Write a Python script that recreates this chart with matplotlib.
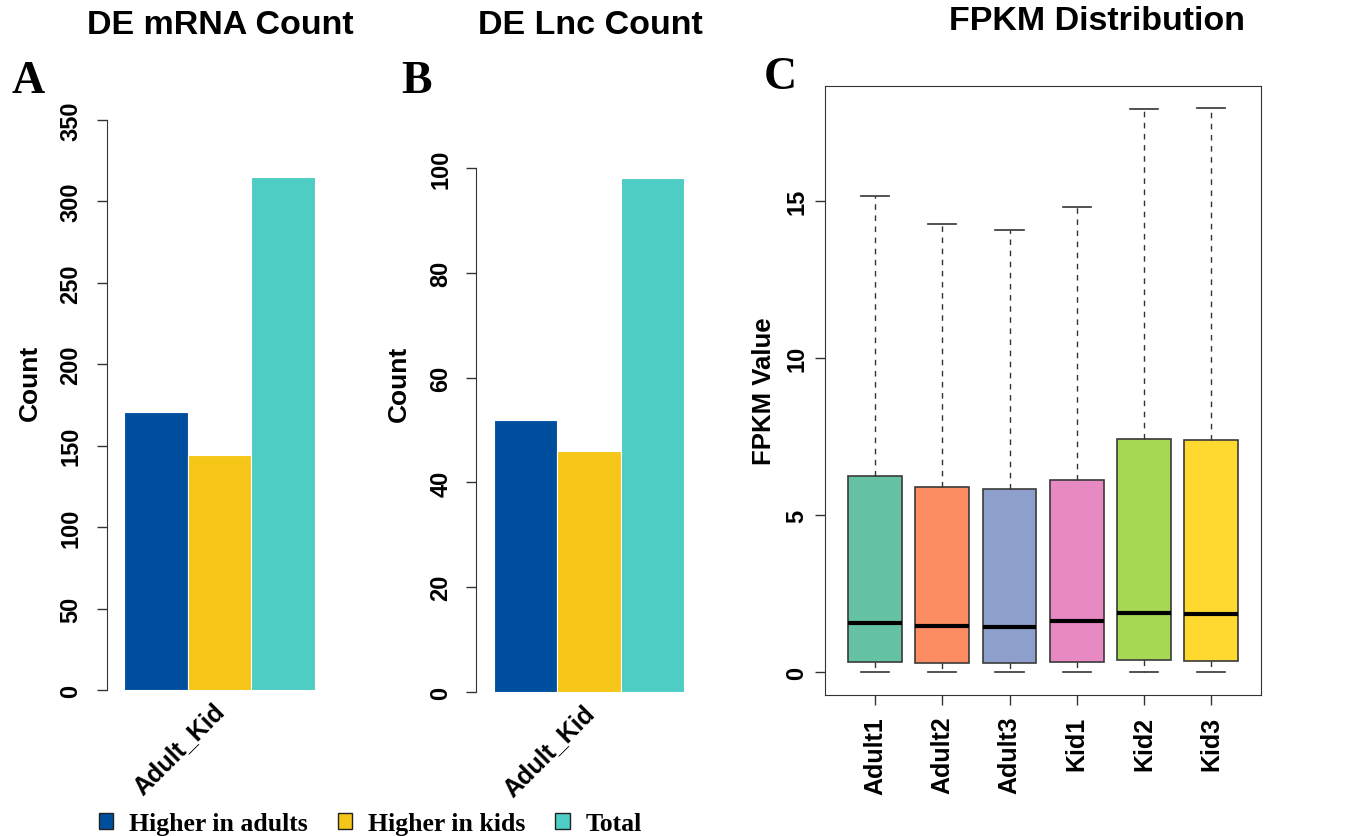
import matplotlib
matplotlib.use("Agg")
import matplotlib.pyplot as plt
from matplotlib.patches import Patch

# ---- data ----
groups = ["Higher in adults", "Higher in kids", "Total"]
bar_colors = ["#004F9F", "#F5C518", "#4ECDC4"]
comparison = "Adult_Kid"
mrna_counts = [171, 144, 315]
lnc_counts = [52, 46, 98]

samples = ["Adult1", "Adult2", "Adult3", "Kid1", "Kid2", "Kid3"]
box_colors = ["#66C2A5", "#FC8D62", "#8DA0CB", "#E78AC3", "#A6D854", "#FFD92F"]
whisk_lo = [0.0, 0.0, 0.0, 0.0, 0.0, 0.0]
q1 = [0.32, 0.29, 0.29, 0.32, 0.38, 0.35]
med = [1.56, 1.46, 1.43, 1.62, 1.88, 1.85]
q3 = [6.24, 5.89, 5.83, 6.11, 7.42, 7.39]
whisk_hi = [15.16, 14.27, 14.08, 14.81, 17.93, 17.96]

W, H = 1357, 837
SANS = "Liberation Sans"
SERIF = "Liberation Serif"

fig = plt.figure(figsize=(W / 100, H / 100), dpi=100)


def px_axes(x0, y0, x1, y1):
    # pixel box (top-left origin) -> figure axes
    return fig.add_axes([x0 / W, 1 - y1 / H, (x1 - x0) / W, (y1 - y0) / H])


def bar_panel(ax, counts, ymax, step, xlim, pad, label_y):
    ax.bar(range(len(counts)), counts, width=1.0, color=bar_colors,
           edgecolor="white", linewidth=0.8)
    ax.set_xlim(*xlim)
    ax.set_ylim(0, ymax)
    for s in ["top", "right", "bottom"]:
        ax.spines[s].set_visible(False)
    ax.spines["left"].set_color("#333333")
    ax.set_yticks(range(0, ymax + 1, step))
    ax.tick_params(axis="y", length=7, width=1, color="#333333", pad=pad,
                   labelsize=17)
    for t in ax.get_yticklabels():
        t.set_rotation(90)
        t.set_va("center")
        t.set_fontweight("bold")
        t.set_fontfamily(SANS)
    # label sits a little left of the group centre, like the R original
    ax.set_xticks([0.89])
    ax.set_xticklabels([comparison], rotation=45, ha="right", va="top",
                       rotation_mode="anchor", fontsize=18, fontweight="bold",
                       fontfamily=SANS)
    ax.tick_params(axis="x", length=0, pad=6)
    ax.set_ylabel("Count", fontsize=19, fontweight="bold", fontfamily=SANS)
    ax.yaxis.set_label_coords(*label_y)


# ---- A: DE mRNA ----
axA = px_axes(107, 121, 330, 691)
bar_panel(axA, mrna_counts, 350, 50, (-0.767, 2.736), 11, (-0.29, 0.54))

# ---- B: DE Lnc ----
axB = px_axes(476, 169, 700, 693)
bar_panel(axB, lnc_counts, 100, 20, (-0.785, 2.75), 10, (-0.29, 0.59))

# ---- C: FPKM boxplot ----
axC = px_axes(825, 87, 1261, 696)
stats = []
for i, name in enumerate(samples):
    stats.append(dict(label=name, whislo=whisk_lo[i], q1=q1[i], med=med[i],
                      q3=q3[i], whishi=whisk_hi[i], fliers=[]))
bp = axC.bxp(stats, positions=range(1, len(samples) + 1), widths=0.8,
             capwidths=0.42, patch_artist=True, showfliers=False,
             boxprops=dict(edgecolor="#3a3a3a", linewidth=1.2),
             medianprops=dict(color="black", linewidth=3),
             whiskerprops=dict(color="#333333", linestyle=(0, (4, 4)), linewidth=1),
             capprops=dict(color="#333333", linewidth=1.2))
for patch, c in zip(bp["boxes"], box_colors):
    patch.set_facecolor(c)
axC.set_xlim(0.256, 6.74)
axC.set_ylim(-0.73, 18.66)
for s in axC.spines.values():
    s.set_color("#333333")
axC.set_yticks([0, 5, 10, 15])
axC.tick_params(axis="both", length=7, width=1, color="#333333", labelsize=17)
axC.tick_params(axis="y", pad=5)
axC.tick_params(axis="x", pad=8, labelsize=18)
for t in axC.get_yticklabels():
    t.set_rotation(90)
    t.set_va("center")
    t.set_fontweight("bold")
    t.set_fontfamily(SANS)
for t in axC.get_xticklabels():
    t.set_rotation(90)
    t.set_fontweight("bold")
    t.set_fontfamily(SANS)
axC.set_ylabel("FPKM Value", fontsize=18.5, fontweight="bold", fontfamily=SANS)
axC.yaxis.set_label_coords(-0.112, 0.5)

# ---- titles and panel letters ----
fig.text(220 / W, 1 - 25 / H, "DE mRNA Count", ha="center", va="center",
         fontsize=24.5, fontweight="bold", fontfamily=SANS)
fig.text(590 / W, 1 - 26 / H, "DE Lnc Count", ha="center", va="center",
         fontsize=24.5, fontweight="bold", fontfamily=SANS)
fig.text(1097 / W, 1 - 21 / H, "FPKM Distribution", ha="center", va="center",
         fontsize=24.5, fontweight="bold", fontfamily=SANS)
for letter, x, y in [("A", 28, 82), ("B", 416, 82), ("C", 780, 78)]:
    fig.text(x / W, 1 - y / H, letter, ha="center", va="center",
             fontsize=33, fontweight="bold", fontfamily=SERIF)

# ---- shared legend ----
handles = [Patch(facecolor=c, edgecolor="#222222", linewidth=1) for c in bar_colors]
fig.legend(handles, groups, loc="lower left", bbox_to_anchor=(99 / W, 1 / H),
           ncol=3, frameon=False, borderpad=0, borderaxespad=0,
           handlelength=0.55, handleheight=0.55,
           handletextpad=0.62, columnspacing=1.17,
           prop=dict(family=SERIF, weight="bold", size=18.5))

fig.savefig("out.png", dpi=100)
